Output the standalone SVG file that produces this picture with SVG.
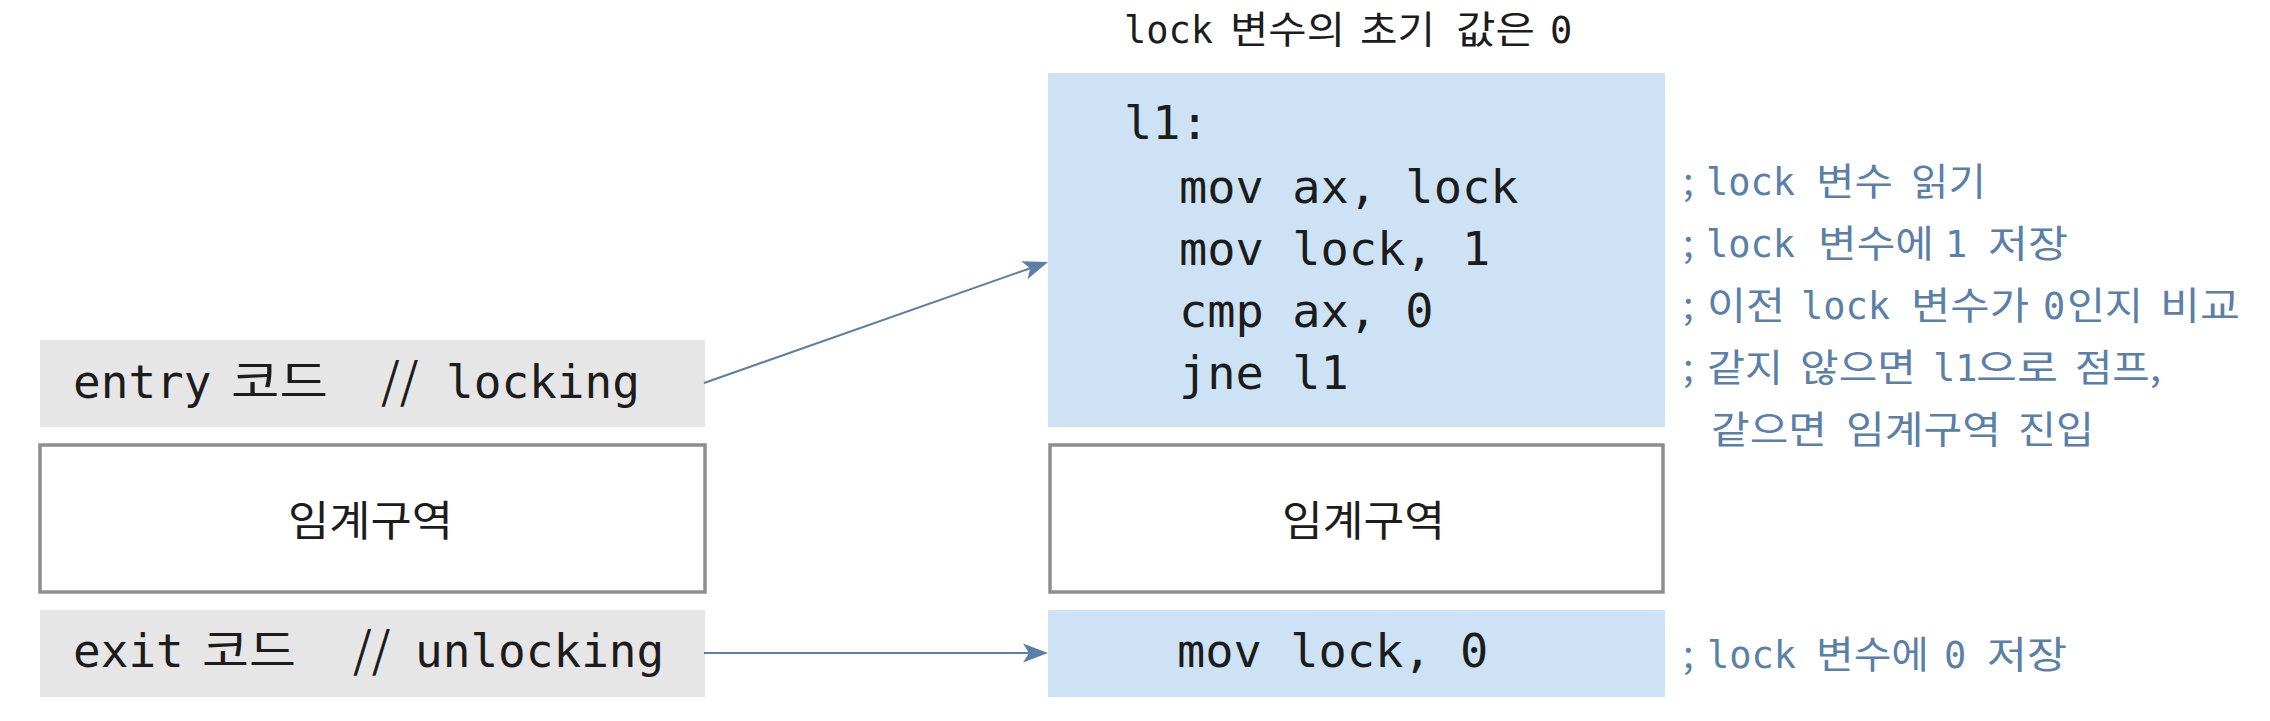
<svg xmlns="http://www.w3.org/2000/svg" width="2270" height="721" viewBox="0 0 2270 721">
<defs>
<style>
.t{font-family:"DejaVu Sans Mono","Noto Sans CJK KR",monospace;fill:#1c1c1c}
.k{font-family:"Noto Sans CJK KR",sans-serif;fill:#1c1c1c}
.lbl{font-size:46px}
.code{font-size:47px}
.cm{font-family:"DejaVu Sans Mono","Noto Sans CJK KR",monospace;font-size:37px;fill:#5a7fa9}
.ck{font-family:"Noto Sans CJK KR",sans-serif;font-size:38px;fill:#5a7fa9}
.gray{fill:#e6e6e6}
.blue{fill:#cde3f5}
.crit{fill:#ffffff;stroke:#8e8e8e;stroke-width:3.5}
.conn{stroke:#5b7fa6;stroke-width:2;fill:none;marker-end:url(#arr)}
</style>
<marker id="arr" markerUnits="userSpaceOnUse" markerWidth="26" markerHeight="20" viewBox="0 0 26 20" refX="6" refY="10" orient="auto">
<path d="M25,10 L0,0.5 L6,10 L0,19.5 Z" fill="#5b7fa6"/>
</marker>
</defs>
<rect width="2270" height="721" fill="#ffffff"/>

<g id="entry">
<rect class="gray" x="40" y="340" width="665" height="87"/>
<text class="t lbl" y="398"><tspan x="73">entry</tspan><tspan x="446">locking</tspan></text>
<text class="k" font-size="45" x="231" y="398" textLength="97" lengthAdjust="spacingAndGlyphs">코드</text>
<text class="k" font-size="48" x="381" y="398">//</text>
</g>

<g id="crit-left">
<rect class="crit" x="40" y="445" width="665" height="147"/>
<text class="k" font-size="42" x="288" y="536" textLength="165" lengthAdjust="spacingAndGlyphs">임계구역</text>
</g>

<g id="exit">
<rect class="gray" x="40" y="610" width="665" height="87"/>
<text class="t lbl" y="667"><tspan x="73">exit</tspan><tspan x="415">unlocking</tspan></text>
<text class="k" font-size="45" x="202" y="667" textLength="94" lengthAdjust="spacingAndGlyphs">코드</text>
<text class="k" font-size="48" x="353" y="667">//</text>
</g>

<g id="title">
<text class="t" font-size="37" x="1124" y="43">lock</text>
<text class="k" font-size="38" x="1230" y="43" textLength="115" lengthAdjust="spacingAndGlyphs">변수의</text>
<text class="k" font-size="38" x="1360" y="43" textLength="75" lengthAdjust="spacingAndGlyphs">초기</text>
<text class="k" font-size="38" x="1456" y="43" textLength="79" lengthAdjust="spacingAndGlyphs">값은</text>
<text class="t" font-size="37" x="1550" y="43">0</text>
</g>

<g id="lock-code">
<rect class="blue" x="1048" y="73" width="617" height="354"/>
<text class="t code" x="1124" y="139">l1:</text>
<text class="t code" x="1179" y="203" xml:space="preserve">mov ax, lock</text>
<text class="t code" x="1179" y="265" xml:space="preserve">mov lock, 1</text>
<text class="t code" x="1179" y="327" xml:space="preserve">cmp ax, 0</text>
<text class="t code" x="1179" y="389" xml:space="preserve">jne l1</text>
</g>

<g id="crit-right">
<rect class="crit" x="1050" y="445" width="613" height="147"/>
<text class="k" font-size="42" x="1282" y="536" textLength="163" lengthAdjust="spacingAndGlyphs">임계구역</text>
</g>

<g id="unlock-code">
<rect class="blue" x="1048" y="610" width="617" height="87"/>
<text class="t code" x="1177" y="667" xml:space="preserve">mov lock, 0</text>
</g>

<g id="comments">
<text class="ck" x="1683" y="195">;</text>
<text class="cm" x="1706" y="195">lock</text>
<text class="ck" x="1816" y="195" textLength="77" lengthAdjust="spacingAndGlyphs">변수</text>
<text class="ck" x="1911" y="195" textLength="75" lengthAdjust="spacingAndGlyphs">읽기</text>

<text class="ck" x="1683" y="257">;</text>
<text class="cm" y="257"><tspan x="1706">lock</tspan><tspan x="1945">1</tspan></text>
<text class="ck" x="1818" y="257" textLength="116" lengthAdjust="spacingAndGlyphs">변수에</text>
<text class="ck" x="1988" y="257" textLength="80" lengthAdjust="spacingAndGlyphs">저장</text>

<text class="ck" x="1683" y="319">;</text>
<text class="cm" y="319"><tspan x="1801">lock</tspan><tspan x="2043">0</tspan></text>
<text class="ck" x="1707" y="319" textLength="78" lengthAdjust="spacingAndGlyphs">이전</text>
<text class="ck" x="1911" y="319" textLength="118" lengthAdjust="spacingAndGlyphs">변수가</text>
<text class="ck" x="2067" y="319" textLength="76" lengthAdjust="spacingAndGlyphs">인지</text>
<text class="ck" x="2160" y="319" textLength="80" lengthAdjust="spacingAndGlyphs">비교</text>

<text class="ck" x="1683" y="381">;</text>
<text class="cm" x="1933" y="381">l1</text>
<text class="ck" x="1707" y="381" textLength="76" lengthAdjust="spacingAndGlyphs">같지</text>
<text class="ck" x="1800" y="381" textLength="116" lengthAdjust="spacingAndGlyphs">않으면</text>
<text class="ck" x="1976" y="381" textLength="82" lengthAdjust="spacingAndGlyphs">으로</text>
<text class="ck" x="2075" y="381" textLength="86" lengthAdjust="spacingAndGlyphs">점프,</text>

<text class="ck" x="1711" y="443" textLength="116" lengthAdjust="spacingAndGlyphs">같으면</text>
<text class="ck" x="1846" y="443" textLength="155" lengthAdjust="spacingAndGlyphs">임계구역</text>
<text class="ck" x="2018" y="443" textLength="76" lengthAdjust="spacingAndGlyphs">진입</text>

<text class="ck" x="1683" y="668">;</text>
<text class="cm" y="668"><tspan x="1707">lock</tspan><tspan x="1944">0</tspan></text>
<text class="ck" x="1816" y="668" textLength="113" lengthAdjust="spacingAndGlyphs">변수에</text>
<text class="ck" x="1987" y="668" textLength="80" lengthAdjust="spacingAndGlyphs">저장</text>
</g>

<g id="connectors">
<line class="conn" x1="704" y1="383" x2="1030.1" y2="268.3"/>
<line class="conn" x1="704" y1="653" x2="1029" y2="653"/>
</g>
</svg>
